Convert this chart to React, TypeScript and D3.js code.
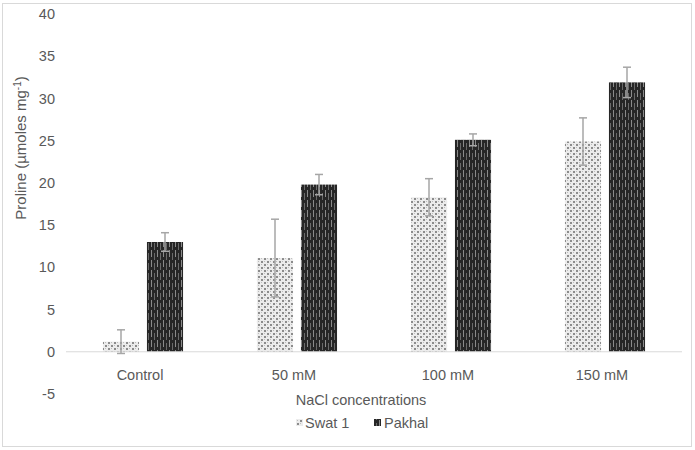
import React from "react";
import * as d3 from "d3";

const categories = ["Control", "50 mM", "100 mM", "150 mM"];
const seriesNames = ["Swat 1", "Pakhal"];
const swatValues = [1.2, 11.1, 18.3, 24.9];
const swatErrors = [1.4, 4.6, 2.2, 2.8];
const pakhalValues = [13.0, 19.8, 25.1, 31.9];
const pakhalErrors = [1.1, 1.2, 0.7, 1.8];
const yTicks = [-5, 0, 5, 10, 15, 20, 25, 30, 35, 40];

const W = 695;
const H = 450;
const left = 66;
const right = 682;
const top = 14;
const bottom = 394;
const textColor = "#595959";
const font = "'Liberation Sans', Arial, sans-serif";

export default function App() {
  const x = d3.scaleBand<string>().domain(categories).range([left, right]);
  const inner = d3.scaleBand<string>().domain(seriesNames).range([0, x.bandwidth()]).paddingInner(0.18).paddingOuter(0.84);
  const y = d3.scaleLinear().domain([-5, 40]).range([bottom, top]);

  const series = [
    { name: seriesNames[0], values: swatValues, errors: swatErrors, fill: "url(#patSwat)" },
    { name: seriesNames[1], values: pakhalValues, errors: pakhalErrors, fill: "url(#patPakhal)" },
  ];

  return (
    <div style={{ position: "absolute", left: 0, top: 0 }}>
      <svg width={W} height={H} style={{ display: "block", background: "#fff" }}>
        <defs>
          <pattern id="patSwat" width="6" height="6" patternUnits="userSpaceOnUse">
            <rect width="6" height="6" fill="#ececec" />
            <rect x="0" y="0" width="2" height="2" fill="#8c8c8c" />
            <rect x="3" y="3" width="2" height="2" fill="#8c8c8c" />
            <rect x="3" y="0" width="1" height="1" fill="#bdbdbd" />
            <rect x="0" y="3" width="1" height="1" fill="#bdbdbd" />
          </pattern>
          <pattern id="patPakhal" width="6" height="10" patternUnits="userSpaceOnUse">
            <rect width="6" height="10" fill="#262626" />
            <rect x="1" y="0" width="1" height="7" fill="#8a8a8a" />
            <rect x="4" y="3" width="1" height="7" fill="#6a6a6a" />
          </pattern>
        </defs>

        <rect x={2.5} y={3.5} width={689} height={443} fill="none" stroke="#d9d9d9" />

        {yTicks.map((t) => (
          <text key={t} x={55} y={y(t)} dy="0.35em" textAnchor="end" fontFamily={font} fontSize={14.5} fill={textColor}>
            {t}
          </text>
        ))}

        <text
          transform={`translate(26,148) rotate(-90)`}
          textAnchor="middle"
          fontFamily={font}
          fontSize={15}
          fill={textColor}
        >
          Proline (µmoles mg
          <tspan fontSize={10} dy={-5}>-1</tspan>
          <tspan dy={5}>)</tspan>
        </text>

        {series.map((s) =>
          categories.map((c, i) => (
            <rect
              key={s.name + c}
              x={(x(c) as number) + (inner(s.name) as number)}
              y={y(s.values[i])}
              width={inner.bandwidth()}
              height={y(0) - y(s.values[i])}
              fill={s.fill}
            />
          ))
        )}

        <line x1={left} x2={right} y1={y(0)} y2={y(0)} stroke="#d9d9d9" strokeWidth={1} />

        {series.map((s) =>
          categories.map((c, i) => {
            const cx = (x(c) as number) + (inner(s.name) as number) + inner.bandwidth() / 2;
            const hi = y(s.values[i] + s.errors[i]);
            const lo = y(s.values[i] - s.errors[i]);
            return (
              <g key={"e" + s.name + c} stroke="#a6a6a6" strokeWidth={1.5}>
                <line x1={cx} x2={cx} y1={hi} y2={lo} />
                <line x1={cx - 4} x2={cx + 4} y1={hi} y2={hi} />
                <line x1={cx - 4} x2={cx + 4} y1={lo} y2={lo} />
              </g>
            );
          })
        )}

        {categories.map((c) => (
          <text
            key={c}
            x={(x(c) as number) + x.bandwidth() / 2 - 3}
            y={375}
            dy="0.35em"
            textAnchor="middle"
            fontFamily={font}
            fontSize={14.5}
            fill={textColor}
          >
            {c}
          </text>
        ))}

        <text x={361} y={400} dy="0.35em" textAnchor="middle" fontFamily={font} fontSize={14.5} fill={textColor}>
          NaCl concentrations
        </text>

        <g fontFamily={font} fontSize={14.5} fill={textColor}>
          <rect x={296} y={419} width={7} height={7} fill="url(#patSwat)" />
          <text x={305} y={423} dy="0.35em">{seriesNames[0]}</text>
          <rect x={374} y={419} width={7} height={7} fill="url(#patPakhal)" />
          <text x={384} y={423} dy="0.35em">{seriesNames[1]}</text>
        </g>
      </svg>
    </div>
  );
}
